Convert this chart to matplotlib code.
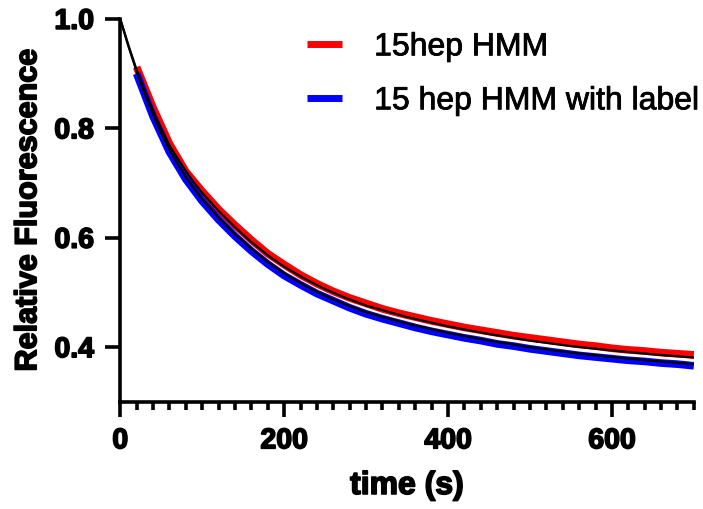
import matplotlib
matplotlib.use("Agg")
import matplotlib.pyplot as plt
import matplotlib.patheffects as pe
from matplotlib.ticker import MultipleLocator

plt.rcParams['font.family'] = ['Liberation Sans', 'DejaVu Sans']

# fitted curves
fit_t = [0, 10, 20, 30, 40, 50, 60, 70, 80, 90, 100, 120, 140, 160, 180, 200,
         225, 250, 275, 300, 350, 400, 450, 500, 550, 600, 650, 700]
fit_red = [1.000, 0.952, 0.907, 0.868, 0.832, 0.799, 0.769, 0.745, 0.722, 0.701,
           0.682, 0.649, 0.619, 0.592, 0.568, 0.547, 0.525, 0.506, 0.490, 0.476,
           0.455, 0.438, 0.424, 0.412, 0.402, 0.394, 0.387, 0.381]
fit_blue = [1.000, 0.950, 0.904, 0.863, 0.826, 0.792, 0.761, 0.735, 0.711, 0.690,
            0.671, 0.637, 0.607, 0.580, 0.556, 0.535, 0.513, 0.494, 0.478, 0.464,
            0.443, 0.426, 0.412, 0.400, 0.390, 0.382, 0.375, 0.369]

# measured traces
data_t = [20, 40, 60, 80, 100, 120, 140, 160, 180, 200, 220, 240, 260, 280, 300,
          320, 340, 360, 380, 400, 420, 440, 460, 480, 500, 520, 540, 560, 580,
          600, 620, 640, 660, 680, 700]
red = [0.912, 0.838, 0.772, 0.721, 0.685, 0.652, 0.623, 0.596, 0.571, 0.551,
       0.532, 0.516, 0.502, 0.490, 0.480, 0.470, 0.462, 0.455, 0.448, 0.442,
       0.436, 0.431, 0.426, 0.421, 0.417, 0.413, 0.409, 0.405, 0.402, 0.398,
       0.395, 0.393, 0.390, 0.388, 0.386]
blue = [0.900, 0.822, 0.757, 0.707, 0.667, 0.633, 0.603, 0.576, 0.552, 0.531,
        0.514, 0.498, 0.485, 0.472, 0.461, 0.452, 0.444, 0.436, 0.429, 0.423,
        0.417, 0.412, 0.406, 0.402, 0.397, 0.393, 0.389, 0.385, 0.382, 0.379,
        0.376, 0.374, 0.371, 0.369, 0.366]

heavy = [pe.withStroke(linewidth=1.2, foreground='black')]
medium = [pe.withStroke(linewidth=0.6, foreground='black')]

fig = plt.figure(figsize=(7.03, 5.10), dpi=100)
ax = fig.add_axes([0.171, 0.210, 0.816, 0.751])

ax.plot(data_t, red, color='#ff0000', lw=5.5, solid_capstyle='butt', label='15hep HMM')
ax.plot(data_t, blue, color='#0000ff', lw=5.5, solid_capstyle='butt', label='15 hep HMM with label')
ax.plot(fit_t, fit_red, color='black', lw=1.6)
ax.plot(fit_t, fit_blue, color='black', lw=1.6)

ax.set_xlim(0, 700)
ax.set_ylim(0.3, 1.0)
ax.set_yticks([0.4, 0.6, 0.8, 1.0])
ax.set_yticklabels(['0.4', '0.6', '0.8', '1.0'])
ax.xaxis.set_major_locator(MultipleLocator(200))
ax.xaxis.set_minor_locator(MultipleLocator(20))

for s in ['top', 'right']:
    ax.spines[s].set_visible(False)
for s in ['left', 'bottom']:
    ax.spines[s].set_linewidth(2.6)

ax.tick_params(which='major', length=11, width=2.6, pad=8)
ax.tick_params(which='minor', length=6, width=2.6)
for lab in ax.get_xticklabels() + ax.get_yticklabels():
    lab.set_fontsize(20.5)
    lab.set_fontweight('bold')
    lab.set_path_effects(heavy)

ax.set_xlabel('time (s)', fontsize=23, fontweight='bold', labelpad=12,
              path_effects=heavy)
ax.set_ylabel('Relative Fluorescence', fontsize=22, fontweight='bold', labelpad=8,
              path_effects=heavy)

leg = ax.legend(loc='upper right', bbox_to_anchor=(1.06, 1.04), frameon=False,
                fontsize=23, handlelength=1.1, handletextpad=1.0, labelspacing=0.75)
for h in leg.get_lines():
    h.set_linewidth(5)
for t in leg.get_texts():
    t.set_path_effects(medium)

fig.savefig('out.png', dpi=100)
